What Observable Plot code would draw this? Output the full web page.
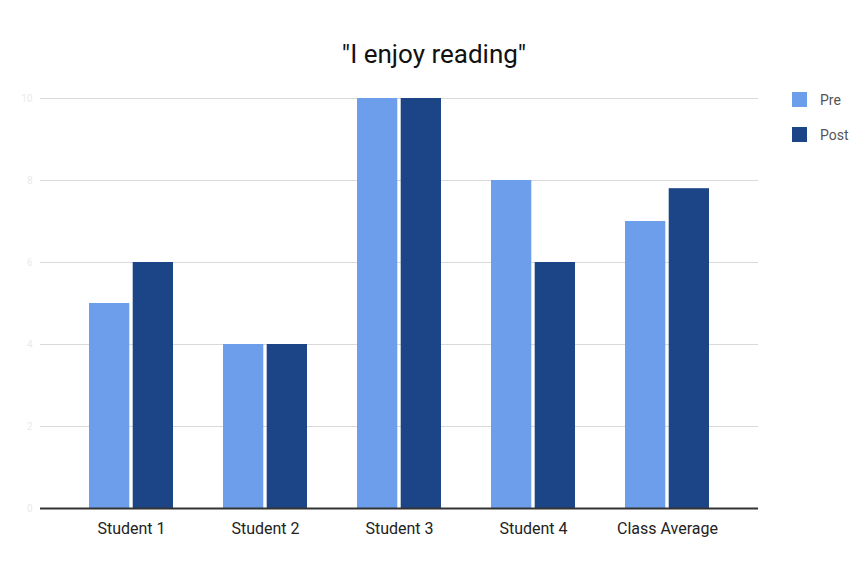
<!DOCTYPE html>
<html><head><meta charset="utf-8">
<script src="https://cdn.jsdelivr.net/npm/d3@7"></script>
<script src="https://cdn.jsdelivr.net/npm/@observablehq/plot@0.6"></script>
<style>
body{margin:0;background:#fff;font-family:Roboto,sans-serif;}
#wrap{position:relative;width:868px;height:563px;}
#title{position:absolute;left:0;width:868px;top:39px;text-align:center;font-size:26px;color:#111;}
#legend{position:absolute;left:792px;top:82px;font-size:14px;color:#555;}
.li{display:flex;align-items:center;height:35px;}
.sw{width:15px;height:15px;margin-right:13px;}
</style></head>
<body><div id="wrap"><div id="title">"I enjoy reading"</div><div id="legend"></div></div>
<script>
const students = ["Student 1","Student 2","Student 3","Student 4","Class Average"];
const pre = [5, 4, 10, 8, 7];
const post = [6, 4, 10, 6, 7.8];
const series = ["Pre","Post"];
const colors = ["#6d9eeb","#1c4587"];
const yTicks = [0,2,4,6,8,10];

const preData = students.map((s,i)=>({student:s, value:pre[i]}));
const postData = students.map((s,i)=>({student:s, value:post[i]}));
const half = 84.4/2;

const chart = Plot.plot({
  width: 868, height: 563,
  marginLeft: 40, marginRight: 110, marginTop: 98, marginBottom: 55,
  style:{fontFamily:"Roboto, sans-serif", background:"transparent"},
  x:{domain:students, paddingInner:0.37, paddingOuter:0.364, label:null},
  y:{domain:[0,10], ticks:yTicks, label:null},
  marks:[
    Plot.gridY(yTicks, {stroke:"#d9d9d9", strokeOpacity:1}),
    Plot.barY(preData, {x:"student", y:"value", fill:colors[0], insetRight: half+1.5}),
    Plot.barY(postData, {x:"student", y:"value", fill:colors[1], insetLeft: half+1.5}),
    Plot.ruleY([0], {stroke:"#333", strokeWidth:2}),
    Plot.axisX({tickSize:0, tickPadding:14, fontSize:16, fill:"#222", label:null}),
    Plot.axisY(yTicks, {tickSize:0, tickPadding:8, fontSize:10, fill:"#eaeaea", label:null})
  ]
});
chart.style.position="absolute"; chart.style.left="0"; chart.style.top="0";
const wrap = document.getElementById("wrap");
wrap.insertBefore(chart, wrap.firstChild);
const lg = document.getElementById("legend");
series.forEach((s,i)=>{
  const d=document.createElement("div"); d.className="li";
  d.innerHTML=`<div class="sw" style="background:${colors[i]}"></div><span>${s}</span>`;
  lg.appendChild(d);
});
</script></body></html>
